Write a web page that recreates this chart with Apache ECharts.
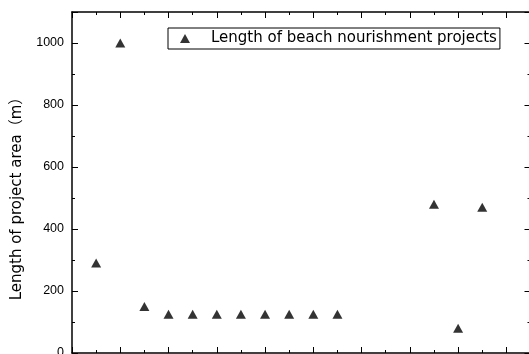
<!DOCTYPE html>
<html>
<head>
<meta charset="utf-8">
<script src="https://cdn.jsdelivr.net/npm/echarts@6/dist/echarts.min.js"></script>
<style>
html,body{margin:0;padding:0;background:#fff;}
#c{width:529px;height:354px;}
</style>
</head>
<body>
<div id="c"></div>
<script>
const projectIndex = [1, 2, 3, 4, 5, 6, 7, 8, 9, 10, 11, 15, 16, 17];
const projectLength = [290, 1000, 150, 125, 125, 125, 125, 125, 125, 125, 125, 480, 80, 470];
const yTicks = [0, 200, 400, 600, 800, 1000];
const seriesName = 'Length of beach nourishment projects';
const yTitle = 'Length of project area（m）';

const chart = echarts.init(document.getElementById('c'), null, {renderer: 'canvas'});
const tickStyle = {show: true, inside: true, length: 6, lineStyle: {color: '#000', width: 1}};
const minorStyle = {show: true, splitNumber: 2, length: 3, lineStyle: {color: '#000', width: 1}};
const lineStyle = {show: true, onZero: false, lineStyle: {color: '#000', width: 1.5}};
const labelFont = '"Liberation Sans", Arial, sans-serif';
const txtFont = '"DejaVu Sans", "Noto Sans CJK JP", sans-serif';

chart.setOption({
  animation: false,
  backgroundColor: '#fff',
  grid: {left: 72, top: 12, width: 458.5, height: 341, containLabel: false, outerBoundsMode: 'none'},
  legend: {
    show: true,
    left: 168,
    top: 28,
    orient: 'horizontal',
    icon: 'triangle',
    itemWidth: 10,
    itemHeight: 9,
    itemGap: 0,
    padding: [3, 3, 3, 12],
    borderColor: '#000',
    borderWidth: 1,
    borderRadius: 0,
    backgroundColor: '#fff',
    textStyle: {fontFamily: txtFont, fontSize: 15, color: '#000', padding: [0, 0, 0, 16]},
    data: [{name: seriesName, itemStyle: {color: '#000'}}]
  },
  xAxis: [
    {type: 'value', position: 'bottom', min: 0, max: 19, interval: 2,
     axisLine: lineStyle, axisTick: tickStyle, minorTick: minorStyle,
     axisLabel: {show: false}, splitLine: {show: false}},
    {type: 'value', position: 'top', min: 0, max: 19, interval: 2,
     axisLine: lineStyle, axisTick: tickStyle, minorTick: minorStyle,
     axisLabel: {show: false}, splitLine: {show: false}}
  ],
  yAxis: [
    {type: 'value', position: 'left', min: 0, max: 1100, interval: 200,
     axisLine: lineStyle, axisTick: tickStyle, minorTick: minorStyle,
     splitLine: {show: false},
     axisLabel: {show: true, margin: 8, color: '#000', fontFamily: labelFont, fontSize: 12.5,
       formatter: v => yTicks.indexOf(v) >= 0 ? String(v) : ''}},
    {type: 'value', position: 'right', min: 0, max: 1100, interval: 200,
     axisLine: lineStyle, axisTick: tickStyle, minorTick: minorStyle,
     splitLine: {show: false}, axisLabel: {show: false}}
  ],
  graphic: [{
    type: 'text',
    style: {text: yTitle, font: '15px ' + txtFont, fill: '#000', textAlign: 'center', textVerticalAlign: 'middle'},
    rotation: Math.PI / 2,
    x: 17, y: 195
  }],
  series: [{
    name: seriesName,
    type: 'scatter',
    symbol: 'triangle',
    symbolSize: [10, 9],
    itemStyle: {color: '#000'},
    data: projectIndex.map((x, i) => [x, projectLength[i]])
  }]
});
</script>
</body>
</html>
